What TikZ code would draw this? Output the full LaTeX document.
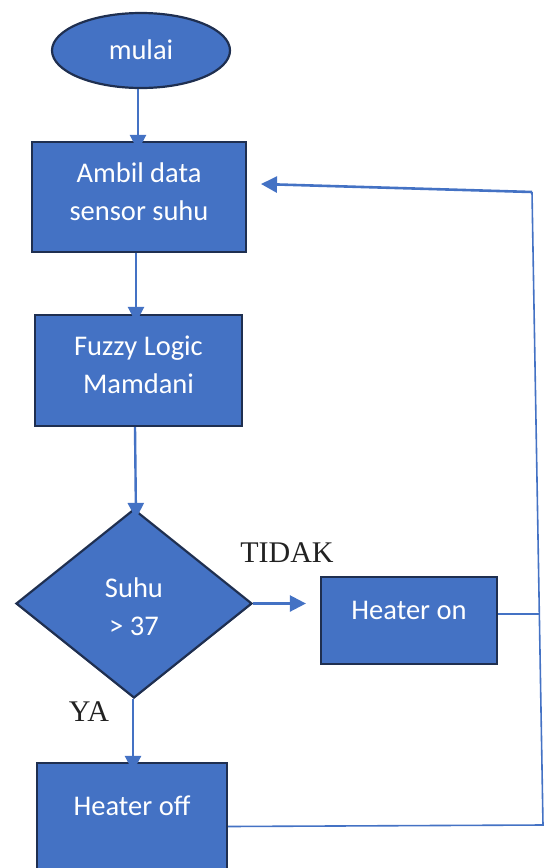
\documentclass[tikz,border=0pt]{standalone}
\usepackage{fontspec}
\setmainfont{Carlito}
\newfontfamily\labelfont{Liberation Serif}
\usetikzlibrary{arrows.meta,shapes.geometric}
\definecolor{fillblue}{HTML}{4472C4}
\definecolor{edgeblue}{HTML}{1F2F50}
\definecolor{lineblue}{HTML}{4472C4}
\definecolor{labelgray}{HTML}{222222}
\begin{document}
\begin{tikzpicture}[x=1pt,y=-1pt,
  box/.style={draw=edgeblue, line width=2.2pt, fill=fillblue, rectangle, inner sep=0pt},
  startshape/.style={draw=edgeblue, line width=2.2pt, fill=fillblue, ellipse, inner sep=0pt, minimum width=178pt, minimum height=75pt},
  decision/.style={draw=edgeblue, line width=2.2pt, fill=fillblue, diamond, inner sep=0pt, minimum width=236pt, minimum height=189pt},
  txt/.style={text=white, font=\fontsize{28.5}{38}\selectfont, align=center, inner sep=0pt},
  lbl/.style={font=\labelfont\fontsize{30}{36}\selectfont, text=labelgray, inner sep=0pt},
  arr/.style={draw=lineblue, line width=2.4pt, -{Triangle[length=16pt,width=16pt]}},
  fb/.style={draw=lineblue, line width=1.6pt}
]
\useasboundingbox (0,0) rectangle (547,868);
\clip (0,0) rectangle (547,868);

% shapes
\node[startshape] (m) at (141,50.5) {};
\node[txt] (mt) at (141,50) {mulai};

\node[box, minimum width=214pt, minimum height=110pt] (b1) at (139,197) {};
\node[txt] (b1t) at (139,191.5) {Ambil data\\sensor suhu};

\node[box, minimum width=207pt, minimum height=111pt] (b2) at (138.5,370.5) {};
\node[txt] (b2t) at (138.5,364.5) {Fuzzy Logic\\Mamdani};

\node[decision] (d) at (134,603.5) {};
\node[txt] (dt) at (134,606.5) {Suhu\\> 37};

\node[box, minimum width=176pt, minimum height=87pt] (hon) at (409,620.5) {};
\node[txt] (hont) at (409,610) {Heater on};

\node[box, minimum width=190pt, minimum height=140pt] (hoff) at (132,833) {};
\node[txt] (hofft) at (132,806) {Heater off};

% labels
\node[lbl] (tidak) at (287,553) {TIDAK};
\node[lbl] (ya) at (89,712) {YA};

% arrows
\draw[arr] (m.south -| 138,0) -- ([yshift=-10pt]b1.north -| 138,0);
\draw[arr] (b1.south -| 136,0) -- ([yshift=-9pt]b2.north -| 136,0);
\draw[arr] (b2.south -| 135,0) -- ([yshift=-11pt]d.north -| 136,0);
\draw[arr] (d.south -| 133,0) -- ([yshift=-10pt]hoff.north -| 133,0);
\draw[arr] (d.east) -- ([xshift=-14pt]hon.west |- d.east);

% feedback
\coordinate (c1) at (543,825);
\coordinate (c2) at (532,192);
\coordinate (c3) at (539.3,614);
\coordinate (c4) at (261,184);
\draw[fb] (hoff.east |- 0,826.5) -- (c1) -- (c2);
\draw[fb] (hon.east |- c3) -- (c3);
\draw[arr, line width=2.6pt] (c2) -- (c4);
\end{tikzpicture}
\end{document}
